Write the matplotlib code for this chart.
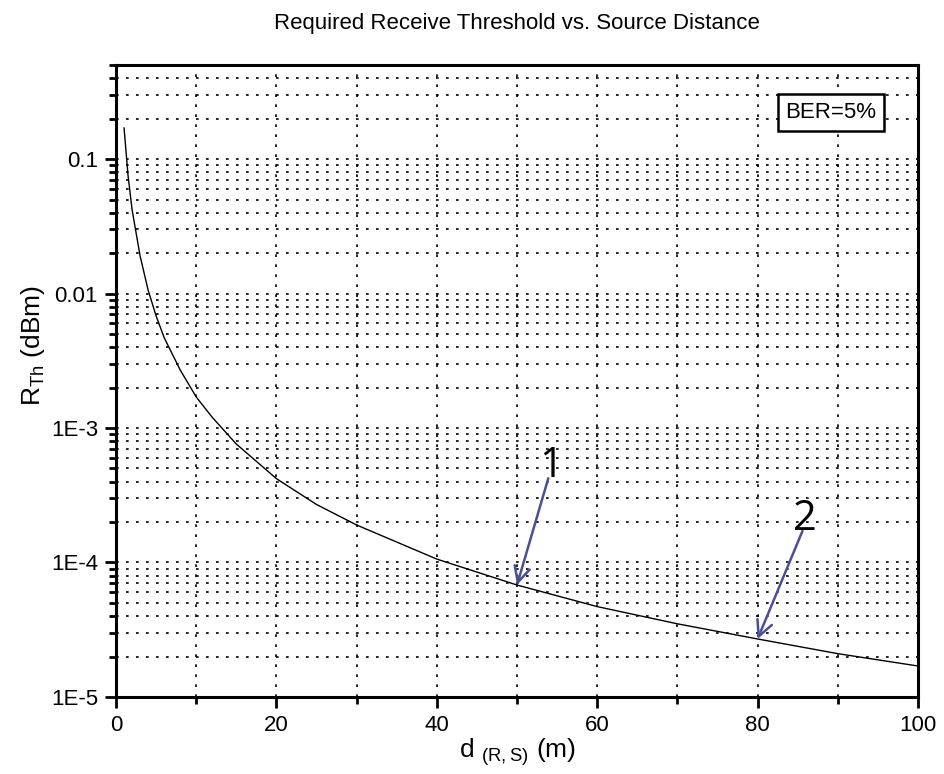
import numpy as np
import matplotlib
matplotlib.use("Agg")
import matplotlib.pyplot as plt
from matplotlib.ticker import FixedLocator, FuncFormatter, NullFormatter

plt.rcParams['font.family'] = ['Liberation Sans', 'DejaVu Sans']

# Required receive threshold versus source distance
distance_m = [1, 1.5, 2, 3, 4, 5, 6, 8, 10, 12, 15, 20, 25, 30, 40,
              50, 60, 70, 80, 90, 100]
threshold_dbm = [0.17, 0.075, 0.042, 0.019, 0.0106, 0.0068, 0.0047,
                 0.0027, 0.0017, 0.0012, 7.6e-4, 4.2e-4, 2.7e-4, 1.9e-4,
                 1.06e-4, 6.8e-5, 4.7e-5, 3.5e-5, 2.7e-5, 2.1e-5, 1.7e-5]

x_major = [0, 20, 40, 60, 80, 100]
x_minor = [10, 30, 50, 70, 90]
y_major = [1e-5, 1e-4, 1e-3, 1e-2, 1e-1]
y_major_labels = ["1E-5", "1E-4", "1E-3", "0.01", "0.1"]

# annotated points: (label, distance, label x, label y)
marks = [("1", 50, 54.2, 4.8e-4), ("2", 80, 85.9, 1.95e-4)]

fig = plt.figure(figsize=(9.45, 7.74), dpi=100)
ax = fig.add_axes([0.1228, 0.0995, 0.8486, 0.8165])

ax.set_yscale("log")
ax.set_xlim(0, 100)
ax.set_ylim(1e-5, 0.5)

ax.plot(distance_m, threshold_dbm, color="black", lw=1.0, zorder=3)

# ticks
ax.xaxis.set_major_locator(FixedLocator(x_major))
ax.xaxis.set_minor_locator(FixedLocator(x_minor))
ax.yaxis.set_major_locator(FixedLocator(y_major))
y_minor = [m * 10.0 ** e for e in range(-5, 0) for m in range(2, 10)
           if m * 10.0 ** e <= 0.5]
ax.yaxis.set_minor_locator(FixedLocator(y_minor))
lab = dict(zip(y_major, y_major_labels))
ax.yaxis.set_major_formatter(FuncFormatter(
    lambda v, p: min(lab.items(),
                     key=lambda kv: abs(np.log10(kv[0]) - np.log10(v)))[1]))
ax.yaxis.set_minor_formatter(NullFormatter())
ax.tick_params(which="both", direction="out", width=2, colors="black",
               labelsize=16, top=False, right=False)
ax.tick_params(which="major", length=8, pad=5)
ax.tick_params(which="minor", length=5)

# dotted grid
gstyle = dict(color="black", linestyle=(0, (1.6, 4.4)), linewidth=1.2)
for xv in x_major[1:-1] + x_minor:
    ax.axvline(xv, zorder=1, **gstyle)
for yv in y_major[1:] + y_minor:
    ax.axhline(yv, zorder=1, **gstyle)

for s in ax.spines.values():
    s.set_linewidth(2.2)
    s.set_color("black")

ax.set_title("Required Receive Threshold vs. Source Distance",
             fontsize=16, pad=26)
ax.set_xlabel(r"d $_{\mathregular{(R,S)}}$ (m)", fontsize=19, labelpad=0)
ax.set_ylabel(r"R$_{\mathregular{Th}}$ (dBm)", fontsize=19, labelpad=4)
ax.yaxis.set_label_coords(-0.086, 0.557)

ax.text(0.8915, 0.925, "BER=5%", transform=ax.transAxes, fontsize=16,
        ha="center", va="center",
        bbox=dict(boxstyle="square,pad=0.35", fc="white", ec="black", lw=1.8),
        zorder=5)

arrow_color = "#4a5094"
for label, d, lx, ly in marks:
    yv = threshold_dbm[distance_m.index(d)]
    ax.annotate("", xy=(d, yv), xytext=(lx - 0.3, ly * 0.88),
                arrowprops=dict(arrowstyle="->", color=arrow_color, lw=1.8,
                                mutation_scale=28, shrinkA=0, shrinkB=0),
                zorder=6)
    ax.text(lx, ly * 1.08, label, fontsize=30, ha="center", va="center",
            family=["Open Sans", "DejaVu Sans"], color="black", zorder=6)

fig.savefig("out.png", dpi=100, facecolor="white")
